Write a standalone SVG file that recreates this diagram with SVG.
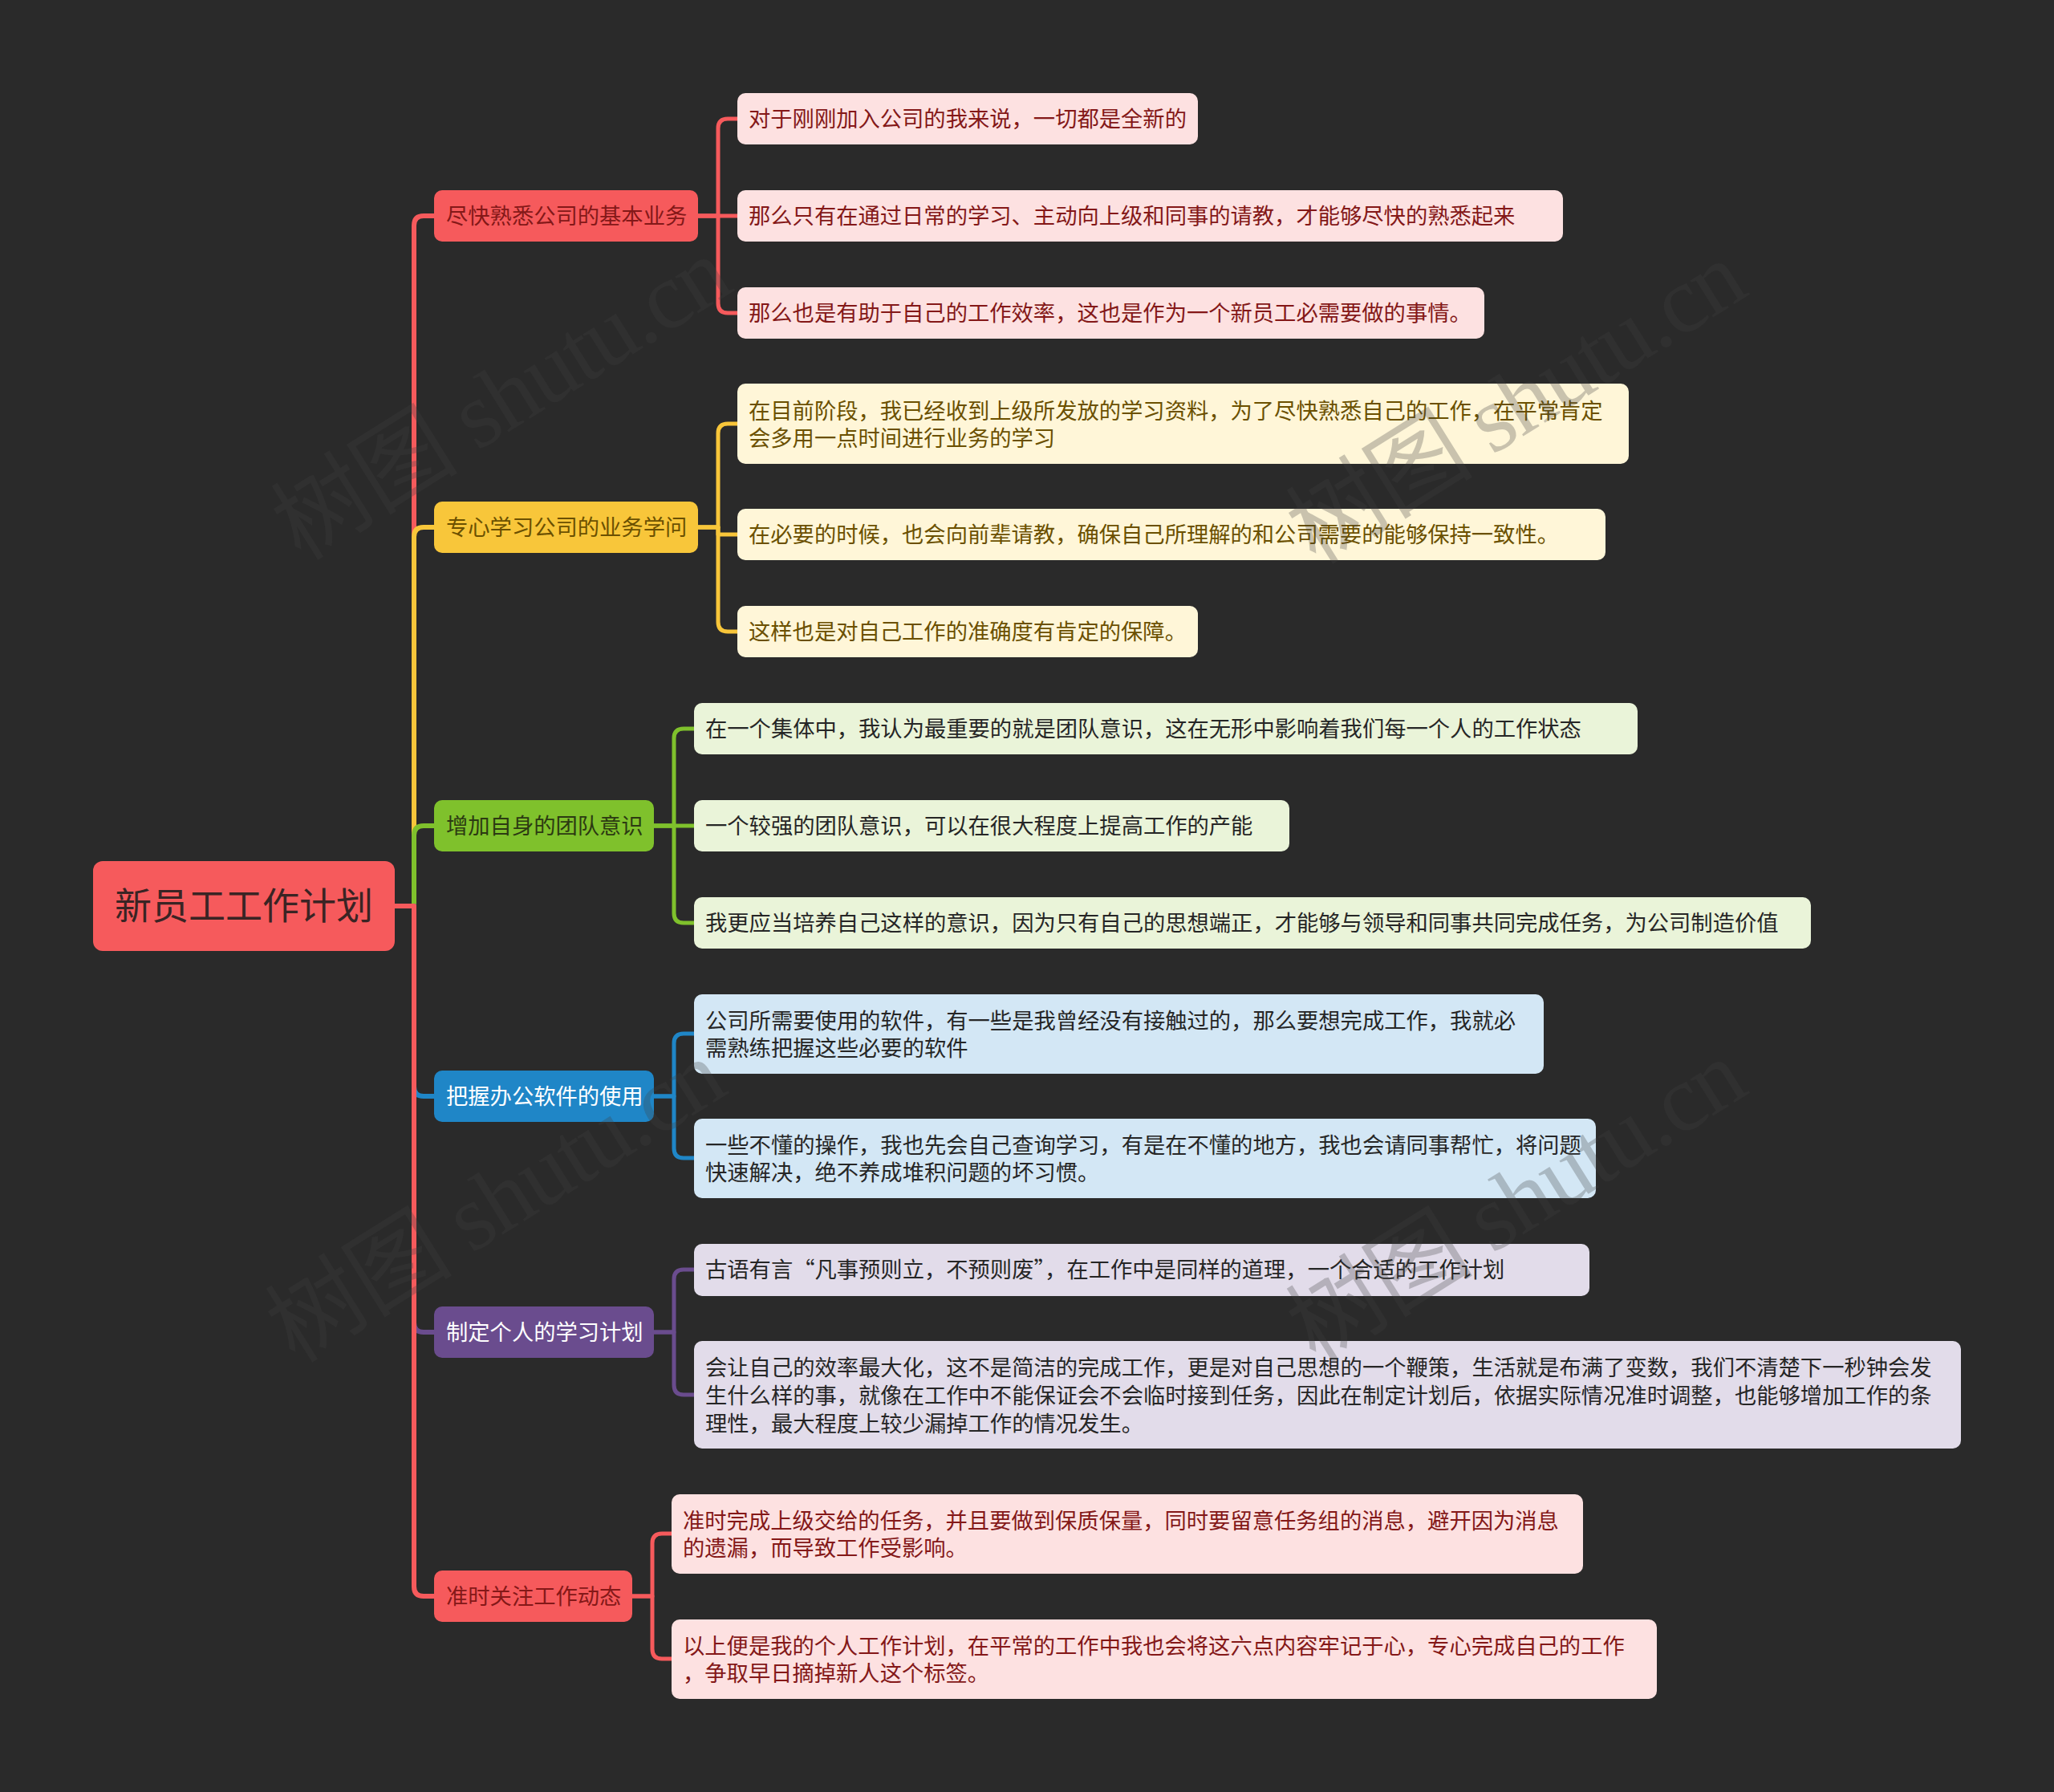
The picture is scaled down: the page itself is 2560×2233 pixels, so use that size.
<svg xmlns="http://www.w3.org/2000/svg" width="2560" height="2233" viewBox="0 0 2560 2233">
<style>
text{font-family:"Noto Sans CJK SC","Noto Sans",sans-serif;font-size:27.3px}
.root{font-size:46px;fill:#3a2424}
.c{fill:none;stroke-linejoin:round;stroke-linecap:butt}
.t{stroke-width:6}
.l{stroke-width:5}
.red{stroke:#f65a5c}.yel{stroke:#f8c63a}.grn{stroke:#7fc12c}.blu{stroke:#1f86c7}.pur{stroke:#6a4c8e}
.nred{fill:#f65a5c}.nyel{fill:#f8c63a}.ngrn{fill:#7fc12c}.nblu{fill:#1f86c7}.npur{fill:#6a4c8e}
.lred{fill:#fde1e1}.lyel{fill:#fff6d8}.lgrn{fill:#eaf4d9}.lblu{fill:#d3e7f5}.lpur{fill:#e2dcea}
.tred{fill:#841818}.tyel{fill:#6b5000}.tgrn{fill:#2c3a12}.tw{fill:#ffffff}.tdk{fill:#262626}
.wm{font-family:"Liberation Serif","Noto Sans CJK SC",serif;font-size:118px;fill:#404040;opacity:0.28}
</style>
<rect width="2560" height="2233" fill="#2a2a2a"/>

<g id="connectors">
<path class="c t red" d="M492,1129 H516 V281 Q516,269 528,269 H541"/>
<path class="c t yel" d="M492,1129 H516 V669 Q516,657 528,657 H541"/>
<path class="c t grn" d="M492,1129 H516 V1041 Q516,1029 528,1029 H541"/>
<path class="c t blu" d="M492,1129 H516 V1354 Q516,1366 528,1366 H541"/>
<path class="c t pur" d="M492,1129 H516 V1648 Q516,1660 528,1660 H541"/>
<path class="c t red" d="M492,1129 H516 V1977 Q516,1989 528,1989 H541"/>

<path class="c l red" d="M870,269 H895 V160 Q895,148 907,148 H919"/>
<path class="c l red" d="M870,269 H919"/>
<path class="c l red" d="M870,269 H895 V378 Q895,390 907,390 H919"/>

<path class="c l yel" d="M870,657 H895 V540 Q895,528 907,528 H919"/>
<path class="c l yel" d="M870,657 H895 V666 H919"/>
<path class="c l yel" d="M870,657 H895 V775 Q895,787 907,787 H919"/>

<path class="c l grn" d="M815,1029 H840 V920 Q840,908 852,908 H865"/>
<path class="c l grn" d="M815,1029 H865"/>
<path class="c l grn" d="M815,1029 H840 V1138 Q840,1150 852,1150 H865"/>

<path class="c l blu" d="M815,1366 H840 V1300 Q840,1288 852,1288 H865"/>
<path class="c l blu" d="M815,1366 H840 V1431 Q840,1443 852,1443 H865"/>

<path class="c l pur" d="M815,1660 H840 V1594 Q840,1582 852,1582 H865"/>
<path class="c l pur" d="M815,1660 H840 V1726 Q840,1738 852,1738 H865"/>

<path class="c l red" d="M788,1989 H813 V1923 Q813,1911 825,1911 H837"/>
<path class="c l red" d="M788,1989 H813 V2055 Q813,2067 825,2067 H837"/>
</g>

<g id="root">
<rect x="116" y="1073" width="376" height="112" rx="12" class="nred"/>
<text x="304" y="1145" text-anchor="middle" class="root">新员工工作计划</text>
</g>

<g id="b1">
<rect x="541" y="237" width="329" height="64" rx="10" class="nred"/>
<text x="556" y="279" class="tred">尽快熟悉公司的基本业务</text>
</g>
<g id="b1l1">
<rect x="919" y="116" width="574" height="64" rx="10" class="lred"/>
<text x="933" y="158" class="tred">对于刚刚加入公司的我来说，一切都是全新的</text>
</g>
<g id="b1l2">
<rect x="919" y="237" width="1029" height="64" rx="10" class="lred"/>
<text x="933" y="279" class="tred">那么只有在通过日常的学习、主动向上级和同事的请教，才能够尽快的熟悉起来</text>
</g>
<g id="b1l3">
<rect x="919" y="358" width="931" height="64" rx="10" class="lred"/>
<text x="933" y="400" class="tred">那么也是有助于自己的工作效率，这也是作为一个新员工必需要做的事情。</text>
</g>

<g id="b2">
<rect x="541" y="625" width="329" height="64" rx="10" class="nyel"/>
<text x="556" y="667" class="tyel">专心学习公司的业务学问</text>
</g>
<g id="b2l1">
<rect x="919" y="478" width="1111" height="100" rx="10" class="lyel"/>
<text x="933" y="522" class="tyel">在目前阶段，我已经收到上级所发放的学习资料，为了尽快熟悉自己的工作，在平常肯定</text>
<text x="933" y="556" class="tyel">会多用一点时间进行业务的学习</text>
</g>
<g id="b2l2">
<rect x="919" y="634" width="1082" height="64" rx="10" class="lyel"/>
<text x="933" y="676" class="tyel">在必要的时候，也会向前辈请教，确保自己所理解的和公司需要的能够保持一致性。</text>
</g>
<g id="b2l3">
<rect x="919" y="755" width="574" height="64" rx="10" class="lyel"/>
<text x="933" y="797" class="tyel">这样也是对自己工作的准确度有肯定的保障。</text>
</g>

<g id="b3">
<rect x="541" y="997" width="274" height="64" rx="10" class="ngrn"/>
<text x="556" y="1039" class="tgrn">增加自身的团队意识</text>
</g>
<g id="b3l1">
<rect x="865" y="876" width="1176" height="64" rx="10" class="lgrn"/>
<text x="879" y="918" class="tdk">在一个集体中，我认为最重要的就是团队意识，这在无形中影响着我们每一个人的工作状态</text>
</g>
<g id="b3l2">
<rect x="865" y="997" width="742" height="64" rx="10" class="lgrn"/>
<text x="879" y="1039" class="tdk">一个较强的团队意识，可以在很大程度上提高工作的产能</text>
</g>
<g id="b3l3">
<rect x="865" y="1118" width="1392" height="64" rx="10" class="lgrn"/>
<text x="879" y="1160" class="tdk">我更应当培养自己这样的意识，因为只有自己的思想端正，才能够与领导和同事共同完成任务，为公司制造价值</text>
</g>

<g id="b4">
<rect x="541" y="1334" width="274" height="64" rx="10" class="nblu"/>
<text x="556" y="1376" class="tw">把握办公软件的使用</text>
</g>
<g id="b4l1">
<rect x="865" y="1239" width="1059" height="99" rx="10" class="lblu"/>
<text x="879" y="1282" class="tdk">公司所需要使用的软件，有一些是我曾经没有接触过的，那么要想完成工作，我就必</text>
<text x="879" y="1316" class="tdk">需熟练把握这些必要的软件</text>
</g>
<g id="b4l2">
<rect x="865" y="1394" width="1124" height="99" rx="10" class="lblu"/>
<text x="879" y="1437" class="tdk">一些不懂的操作，我也先会自己查询学习，有是在不懂的地方，我也会请同事帮忙，将问题</text>
<text x="879" y="1471" class="tdk">快速解决，绝不养成堆积问题的坏习惯。</text>
</g>

<g id="b5">
<rect x="541" y="1628" width="274" height="64" rx="10" class="npur"/>
<text x="556" y="1670" class="tw">制定个人的学习计划</text>
</g>
<g id="b5l1">
<rect x="865" y="1550" width="1116" height="65" rx="10" class="lpur"/>
<text x="879" y="1592" class="tdk">古语有言“凡事预则立，不预则废”，在工作中是同样的道理，一个合适的工作计划</text>
</g>
<g id="b5l2">
<rect x="865" y="1671" width="1579" height="134" rx="10" class="lpur"/>
<text x="879" y="1714" class="tdk">会让自己的效率最大化，这不是简洁的完成工作，更是对自己思想的一个鞭策，生活就是布满了变数，我们不清楚下一秒钟会发</text>
<text x="879" y="1749" class="tdk">生什么样的事，就像在工作中不能保证会不会临时接到任务，因此在制定计划后，依据实际情况准时调整，也能够增加工作的条</text>
<text x="879" y="1784" class="tdk">理性，最大程度上较少漏掉工作的情况发生。</text>
</g>

<g id="b6">
<rect x="541" y="1957" width="247" height="64" rx="10" class="nred"/>
<text x="556" y="1999" class="tred">准时关注工作动态</text>
</g>
<g id="b6l1">
<rect x="837" y="1862" width="1136" height="99" rx="10" class="lred"/>
<text x="851" y="1905" class="tred">准时完成上级交给的任务，并且要做到保质保量，同时要留意任务组的消息，避开因为消息</text>
<text x="851" y="1939" class="tred">的遗漏，而导致工作受影响。</text>
</g>
<g id="b6l2">
<rect x="837" y="2018" width="1228" height="99" rx="10" class="lred"/>
<text x="851" y="2061" class="tred">以上便是我的个人工作计划，在平常的工作中我也会将这六点内容牢记于心，专心完成自己的工作</text>
<text x="851" y="2095" class="tred">，争取早日摘掉新人这个标签。</text>
</g>

<g id="watermarks">
<text class="wm" x="0" y="0" textLength="640" transform="translate(375,700) rotate(-32)">树图 shutu.cn</text>
<text class="wm" x="0" y="0" textLength="640" transform="translate(1640,705) rotate(-32)">树图 shutu.cn</text>
<text class="wm" x="0" y="0" textLength="640" transform="translate(368,1700) rotate(-32)">树图 shutu.cn</text>
<text class="wm" x="0" y="0" textLength="640" transform="translate(1640,1700) rotate(-32)">树图 shutu.cn</text>
</g>
</svg>
